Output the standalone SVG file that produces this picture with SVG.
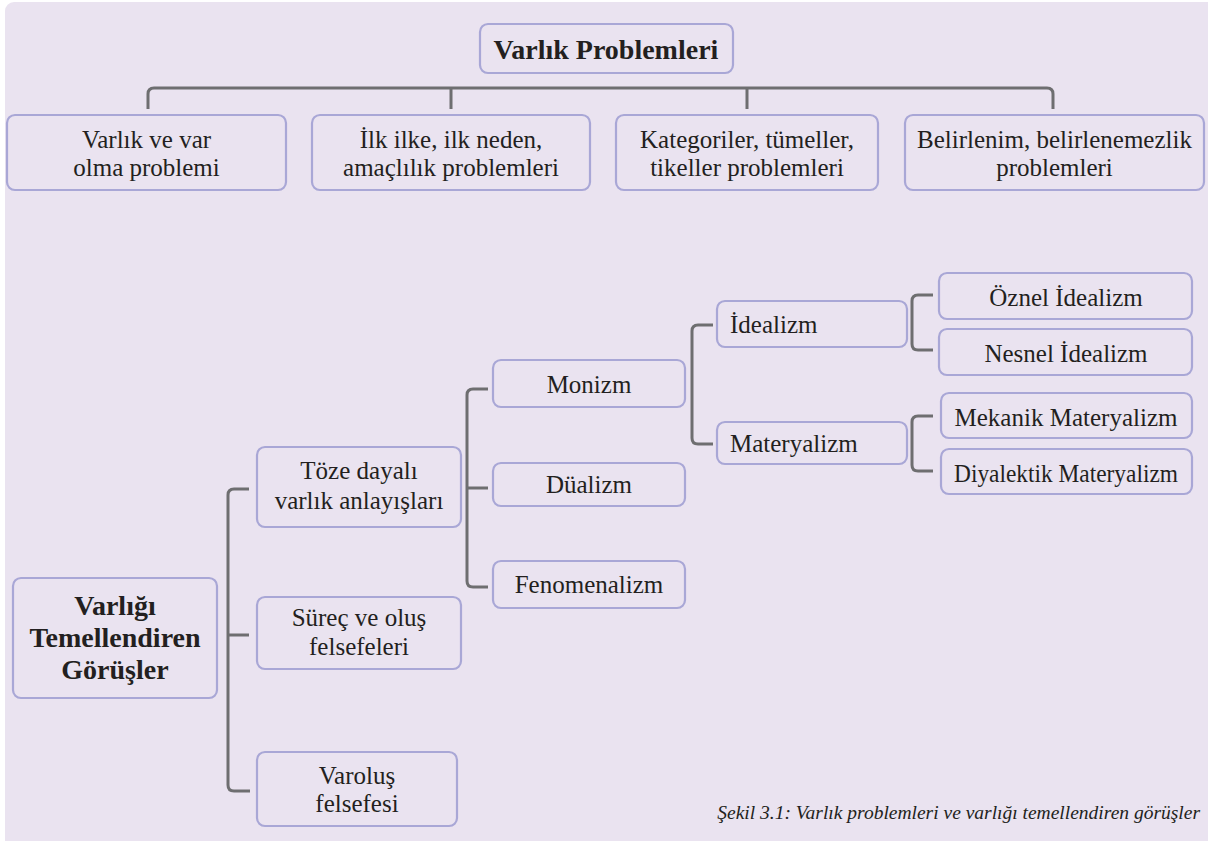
<svg xmlns="http://www.w3.org/2000/svg" width="1208" height="841" viewBox="0 0 1208 841">
<style>
.bg{fill:#EAE3F0}
.box{fill:none;stroke:#A9A7D6;stroke-width:2.2}
.con{fill:none;stroke:#6E6E70;stroke-width:3;stroke-linecap:butt}
text{font-family:"Liberation Serif","DejaVu Serif",serif;fill:#231F20;font-size:25px}
.c{text-anchor:middle}
.b{font-weight:bold;font-size:28px}
.cap{font-style:italic;font-size:19.5px;text-anchor:end}
</style>
<rect x="0" y="0" width="1208" height="841" fill="#FFFFFF"/>
<rect class="bg" x="5" y="2" width="1215" height="850" rx="9"/>

<g id="connectors">
<path class="con" d="M148,109 V94 Q148,88 154,88 H1047 Q1053,88 1053,94 V109"/>
<path class="con" d="M451,88 V109 M747,88 V109"/>
<path class="con" d="M249,489 H234 Q228,489 228,495 V785 Q228,791 234,791 H250 M228,635 H249"/>
<path class="con" d="M488,389 H473 Q467,389 467,395 V581 Q467,587 473,587 H488 M467,488 H488"/>
<path class="con" d="M713,325 H698 Q692,325 692,331 V438 Q692,444 698,444 H713"/>
<path class="con" d="M933,295 H918 Q912,295 912,301 V344 Q912,350 918,350 H933"/>
<path class="con" d="M933,416 H918 Q912,416 912,422 V465 Q912,471 918,471 H933"/>
</g>

<g id="varlik-problemleri">
<rect class="box" x="480" y="24" width="253" height="49" rx="8"/>
<text class="c b" x="606" y="59">Varlık Problemleri</text>
</g>

<g id="varlik-ve-var">
<rect class="box" x="7" y="115" width="279" height="75" rx="8"/>
<text class="c" x="146.5" y="148">Varlık ve var</text>
<text class="c" x="146.5" y="176">olma problemi</text>
</g>

<g id="ilk-ilke">
<rect class="box" x="312" y="115" width="278" height="75" rx="8"/>
<text class="c" x="451" y="148">İlk ilke, ilk neden,</text>
<text class="c" x="451" y="176">amaçlılık problemleri</text>
</g>

<g id="kategoriler">
<rect class="box" x="616" y="115" width="262" height="75" rx="8"/>
<text class="c" x="747" y="148">Kategoriler, tümeller,</text>
<text class="c" x="747" y="176">tikeller problemleri</text>
</g>

<g id="belirlenim">
<rect class="box" x="905" y="115" width="299" height="75" rx="8"/>
<text class="c" x="1054.5" y="148">Belirlenim, belirlenemezlik</text>
<text class="c" x="1054.5" y="176">problemleri</text>
</g>

<g id="varligi-temellendiren">
<rect class="box" x="13" y="578" width="204" height="120" rx="8"/>
<text class="c b" x="115" y="615">Varlığı</text>
<text class="c b" x="115" y="647">Temellendiren</text>
<text class="c b" x="115" y="679">Görüşler</text>
</g>

<g id="toze-dayali">
<rect class="box" x="257" y="447" width="204" height="80" rx="8"/>
<text class="c" x="359" y="479">Töze dayalı</text>
<text class="c" x="359" y="509">varlık anlayışları</text>
</g>

<g id="surec">
<rect class="box" x="257" y="597" width="204" height="72" rx="8"/>
<text class="c" x="359" y="626">Süreç ve oluş</text>
<text class="c" x="359" y="655">felsefeleri</text>
</g>

<g id="varolus">
<rect class="box" x="257" y="752" width="200" height="74" rx="8"/>
<text class="c" x="357" y="784">Varoluş</text>
<text class="c" x="357" y="812">felsefesi</text>
</g>

<g id="monizm">
<rect class="box" x="493" y="360" width="192" height="47" rx="8"/>
<text class="c" x="589" y="393">Monizm</text>
</g>

<g id="dualizm">
<rect class="box" x="493" y="463" width="192" height="43" rx="8"/>
<text class="c" x="589" y="493">Düalizm</text>
</g>

<g id="fenomenalizm">
<rect class="box" x="493" y="561" width="192" height="47" rx="8"/>
<text class="c" x="589" y="593">Fenomenalizm</text>
</g>

<g id="idealizm">
<rect class="box" x="717" y="301" width="190" height="46" rx="8"/>
<text x="730" y="333">İdealizm</text>
</g>

<g id="materyalizm">
<rect class="box" x="717" y="422" width="190" height="42" rx="8"/>
<text x="730" y="452">Materyalizm</text>
</g>

<g id="oznel-idealizm">
<rect class="box" x="939" y="273" width="253" height="46" rx="8"/>
<text class="c" x="1066" y="306">Öznel İdealizm</text>
</g>

<g id="nesnel-idealizm">
<rect class="box" x="939" y="329" width="253" height="46" rx="8"/>
<text class="c" x="1066" y="362">Nesnel İdealizm</text>
</g>

<g id="mekanik-materyalizm">
<rect class="box" x="941" y="393" width="251" height="45" rx="8"/>
<text class="c" x="1066" y="426" textLength="223" lengthAdjust="spacingAndGlyphs">Mekanik Materyalizm</text>
</g>

<g id="diyalektik-materyalizm">
<rect class="box" x="941" y="449" width="251" height="45" rx="8"/>
<text class="c" x="1066" y="482" textLength="224" lengthAdjust="spacingAndGlyphs">Diyalektik Materyalizm</text>
</g>

<text class="cap" x="1200" y="819">Şekil 3.1: Varlık problemleri ve varlığı temellendiren görüşler</text>
</svg>
